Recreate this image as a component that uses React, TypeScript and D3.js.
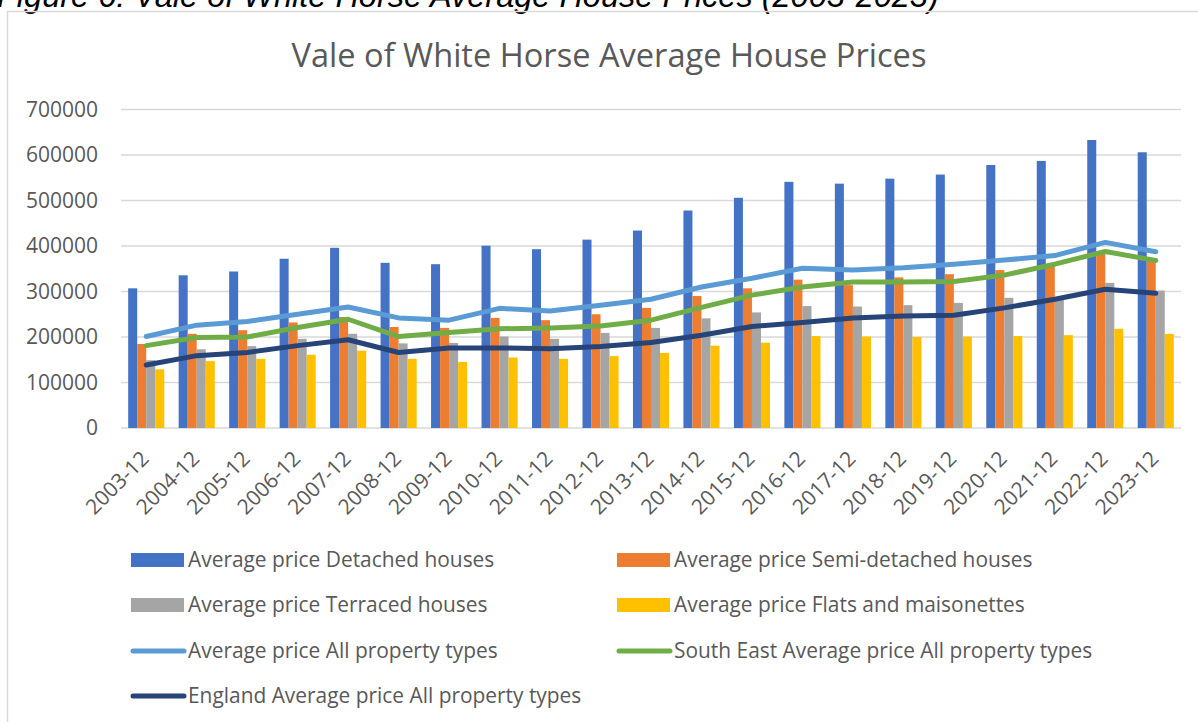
import React from "react";
import * as d3 from "d3";

const categories = ["2003-12","2004-12","2005-12","2006-12","2007-12","2008-12","2009-12","2010-12","2011-12","2012-12","2013-12","2014-12","2015-12","2016-12","2017-12","2018-12","2019-12","2020-12","2021-12","2022-12","2023-12"];
const detached = [307000,335600,344000,372000,396000,363000,360000,400700,393000,414000,434000,478000,506000,541000,537000,548000,557000,578000,587000,633000,606000];
const semiDetached = [184600,207000,215000,232000,244000,222000,220000,242000,237000,250000,264000,290000,307000,326000,314000,331000,338000,347000,357000,384000,368000];
const terraced = [149000,173000,180000,196000,207000,186000,187000,201000,196000,209000,220000,241000,254000,268000,267000,270000,275000,286000,285000,319000,302000];
const flats = [129000,147000,152000,161000,170000,152000,145000,155000,152000,158000,165000,181000,187500,202000,201000,200000,201000,202000,204000,218000,207000];
const valeAll = [201000,226000,234000,250000,266000,242000,237000,263000,257000,270000,283000,310000,329000,351000,347000,352000,360000,369000,379000,408000,387500];
const southEastAll = [181000,199000,200000,221000,239000,201000,210000,218000,220000,224000,237000,265000,292000,310000,321000,321000,322000,336000,360000,388000,368000];
const englandAll = [138500,159000,166000,181000,194000,166000,176000,176000,174000,179000,188000,204000,223000,232000,242000,246000,248000,264000,283000,305000,296000];
const yTicks = [0,100000,200000,300000,400000,500000,600000,700000];

const barSeries = [
  { name: "Average price Detached houses", values: detached, color: "#4472C4" },
  { name: "Average price Semi-detached houses", values: semiDetached, color: "#ED7D31" },
  { name: "Average price Terraced houses", values: terraced, color: "#A5A5A5" },
  { name: "Average price Flats and maisonettes", values: flats, color: "#FFC000" },
];
const lineSeries = [
  { name: "Average price All property types", values: valeAll, color: "#5B9BD5" },
  { name: "South East Average price All property types", values: southEastAll, color: "#70AD47" },
  { name: "England Average price All property types", values: englandAll, color: "#264478" },
];

const FONT = "'Open Sans', 'Noto Sans', sans-serif";
const TEXT = "#595959";

export default function App() {
  const W = 1198, H = 722;
  const left = 121, right = 1181, top = 109.5, bottom = 428;
  const x = d3.scaleBand<string>().domain(categories).range([left, right]).paddingInner(0).paddingOuter(0);
  const y = d3.scaleLinear().domain([0, 700000]).range([bottom, top]);
  const groupW = x.bandwidth() * 0.715;
  const xs = d3.scaleBand<number>().domain(d3.range(barSeries.length)).range([0, groupW]);
  const cx = (c: string) => (x(c) as number) + x.bandwidth() / 2;
  const line = d3.line<number>().x((_, i) => cx(categories[i])).y((v) => y(v));

  const legendItems = [...barSeries.map(s => ({ ...s, kind: "bar" })), ...lineSeries.map(s => ({ ...s, kind: "line" }))];
  const legendRows = [560, 605, 651, 696];
  const legendCols = [131, 617];

  return (
    <svg width={W} height={H} style={{ position: "absolute", left: 0, top: 0, background: "#fff" }}>
      <text x={-3} y={7} fontFamily="'Liberation Sans', Arial, sans-serif" fontStyle="italic" fontSize={32.5} fill="#000">
        Figure 6: Vale of White Horse Average House Prices (2003-2023)
      </text>
      <rect x={7.5} y={11.5} width={1300} height={800} fill="none" stroke="#d9d9d9" strokeWidth={1.5} />
      <text x={609} y={67} textAnchor="middle" fontFamily={FONT} fontSize={32.6} fill={TEXT}>
        Vale of White Horse Average House Prices
      </text>
      {yTicks.map(t => (
        <g key={t}>
          <line x1={left} x2={right} y1={y(t)} y2={y(t)} stroke="#d9d9d9" strokeWidth={1.5} />
          <text x={98} y={y(t)} dy="0.35em" textAnchor="end" fontFamily={FONT} fontSize={21} fill={TEXT}>{t}</text>
        </g>
      ))}
      {barSeries.map((s, si) => (
        <g key={s.name}>
          {s.values.map((v, i) => {
            const c = categories[i];
            const bx = cx(c) - groupW / 2 + (xs(si) as number);
            return <rect key={c} x={bx} y={y(v)} width={xs.bandwidth()} height={y(0) - y(v)} fill={s.color} />;
          })}
        </g>
      ))}
      {lineSeries.map(s => (
        <path key={s.name} d={line(s.values) as string} fill="none" stroke={s.color} strokeWidth={5} strokeLinecap="round" strokeLinejoin="round" />
      ))}
      {categories.map(c => (
        <text key={c} transform={`translate(${cx(c) + 4},${460}) rotate(-45)`} textAnchor="end" fontFamily={FONT} fontSize={21} fill={TEXT}>{c}</text>
      ))}
      {legendItems.map((it, k) => {
        const lx = legendCols[k % 2];
        const ly = legendRows[Math.floor(k / 2)];
        return (
          <g key={it.name}>
            {it.kind === "bar" ? (
              <rect x={lx} y={ly - 7} width={53} height={14} fill={it.color} />
            ) : (
              <line x1={lx + 2} x2={lx + 53} y1={ly} y2={ly} stroke={it.color} strokeWidth={5} strokeLinecap="round" />
            )}
            <text x={lx + 57} y={ly} dy="0.35em" fontFamily={FONT} fontSize={20.9} fill={TEXT}>{it.name}</text>
          </g>
        );
      })}
    </svg>
  );
}
